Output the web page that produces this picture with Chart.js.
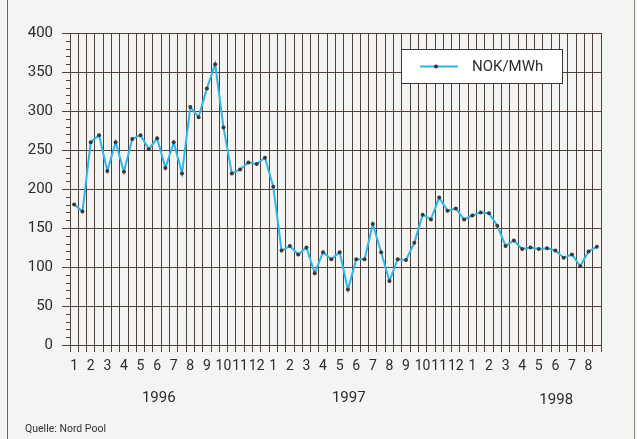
<!DOCTYPE html>
<html>
<head>
<meta charset="utf-8">
<script src="https://cdn.jsdelivr.net/npm/chart.js@4/dist/chart.umd.min.js"></script>
<style>
    body { margin: 0; background: #f4f4f2; }
    #wrap { position: relative; width: 637px; height: 439px; }
    #frame { position: absolute; left: 7px; top: 0; width: 626px; height: 439px;
             border-left: 1px solid #6f6664; border-right: 1px solid #8c8684; }
    #kilde { position: absolute; left: 25px; top: 422px; font: 10.5px Roboto, sans-serif; color: #333; }
    canvas { position: absolute; left: 0; top: 0; }
</style>
</head>
<body>
<div id="wrap">
    <div id="frame"></div>
    <canvas id="prisplot" width="637" height="439"></canvas>
    <div id="kilde">Quelle: Nord Pool</div>
</div>
<script>
// maanedsnumre paa x-aksen (to punkter pr maaned)
let months1996 = ["1","2","3","4","5","6","7","8","9","10","11","12"]
let months1997 = ["1","2","3","4","5","6","7","8","9","10","11","12"]
let months1998 = ["1","2","3","4","5","6","7","8"]
let years = ["1996", "1997", "1998"]

// spotpris NOK/MWh, aflaest fra figuren
let prices = [
    180, 171, 260, 269, 223, 260, 222, 264, 269, 251, 265, 227,
    260, 220, 305, 292, 329, 360, 279, 220, 225, 234, 232, 240,
    203, 121, 127, 116, 125, 92, 119, 110, 119, 71, 110, 110,
    155, 119, 82, 110, 109, 131, 167, 161, 189, 172, 175, 161,
    166, 170, 169, 153, 127, 134, 123, 125, 123, 124, 121, 112,
    116, 101, 120, 126
]

let labels1 = []
for (let m of months1996.concat(months1997, months1998)) {
    labels1.push(m)
    labels1.push("")
}

const gridColor = "#4f403c"
const txtColor = "#2b2b2b"
const font1 = "Roboto"

// aarstal, legende og smaa streger paa y-aksen
const extras = {
    id: "extras",
    afterDraw(chart) {
        let ctx = chart.ctx
        let x = chart.scales.x
        let y = chart.scales.y
        let area = chart.chartArea

        // korte streger for hver 10
        ctx.save()
        ctx.strokeStyle = gridColor
        ctx.lineWidth = 1
        for (let v = 10; v < 400; v += 10) {
            if (v % 50 === 0) continue
            let py = Math.round(y.getPixelForValue(v)) + 0.5
            ctx.beginPath()
            ctx.moveTo(area.left - 4, py)
            ctx.lineTo(area.left, py)
            ctx.stroke()
        }

        // aarstal
        ctx.fillStyle = txtColor
        ctx.font = "15px " + font1
        ctx.textAlign = "center"
        ctx.textBaseline = "middle"
        let yearPos = [10.2, 33.1, 58.1]
        let yearY = [398, 398, 400]
        for (let i = 0; i < years.length; i++) {
            ctx.fillText(years[i], x.getPixelForValue(yearPos[i]), yearY[i])
        }

        // legende
        let ds = chart.data.datasets[0]
        let bx = area.left + 331, by = area.top + 16
        ctx.fillStyle = "#ffffff"
        ctx.fillRect(bx, by, 161, 34)
        ctx.strokeStyle = "#3c3836"
        ctx.strokeRect(bx + 0.5, by + 0.5, 161, 34)
        ctx.strokeStyle = ds.borderColor
        ctx.lineWidth = 2
        ctx.beginPath()
        ctx.moveTo(bx + 19, by + 17.5)
        ctx.lineTo(bx + 57, by + 17.5)
        ctx.stroke()
        ctx.fillStyle = "#333"
        ctx.beginPath()
        ctx.arc(bx + 35, by + 17.5, 2, 0, Math.PI * 2)
        ctx.fill()
        ctx.fillStyle = txtColor
        ctx.textAlign = "left"
        ctx.fillText(ds.label, bx + 71, by + 18)
        ctx.restore()
    }
}

let data = {
    labels: labels1,
    datasets: [{
        label: "NOK/MWh",
        data: prices,
        borderColor: "#30b6e8",
        borderWidth: 2,
        tension: 0,
        pointRadius: 2,
        pointBackgroundColor: "#3a3a3a",
        pointBorderWidth: 0
    }]
}

const config = {
    type: "line",
    data: data,
    plugins: [extras],
    options: {
        responsive: false,
        animation: false,
        layout: { padding: { top: 33, right: 36, bottom: 0, left: 0 } },
        plugins: { legend: { display: false }, tooltip: { enabled: false } },
        scales: {
            x: {
                offset: true,
                afterFit: s => { s.height = 94 },
                grid: { offset: true, color: gridColor, lineWidth: 1, tickLength: 7 },
                border: { color: gridColor, width: 1 },
                ticks: {
                    autoSkip: false, maxRotation: 0, minRotation: 0, padding: 6,
                    color: txtColor, font: { family: font1, size: 14 }
                }
            },
            y: {
                min: 0, max: 400,
                afterFit: s => { s.width = 70 },
                grid: {
                    color: c => (c.tick.value % 50 === 0 ? gridColor : "transparent"),
                    tickColor: c => (c.tick.value % 50 === 0 ? gridColor : "transparent"),
                    lineWidth: 1, tickLength: 8
                },
                border: { color: gridColor, width: 1 },
                ticks: {
                    stepSize: 10, padding: 9, color: txtColor, autoSkip: false,
                    font: { family: font1, size: 15 },
                    callback: v => (v % 50 === 0 ? v : "")
                }
            }
        }
    }
}

new Chart(document.getElementById("prisplot"), config)
</script>
</body>
</html>
